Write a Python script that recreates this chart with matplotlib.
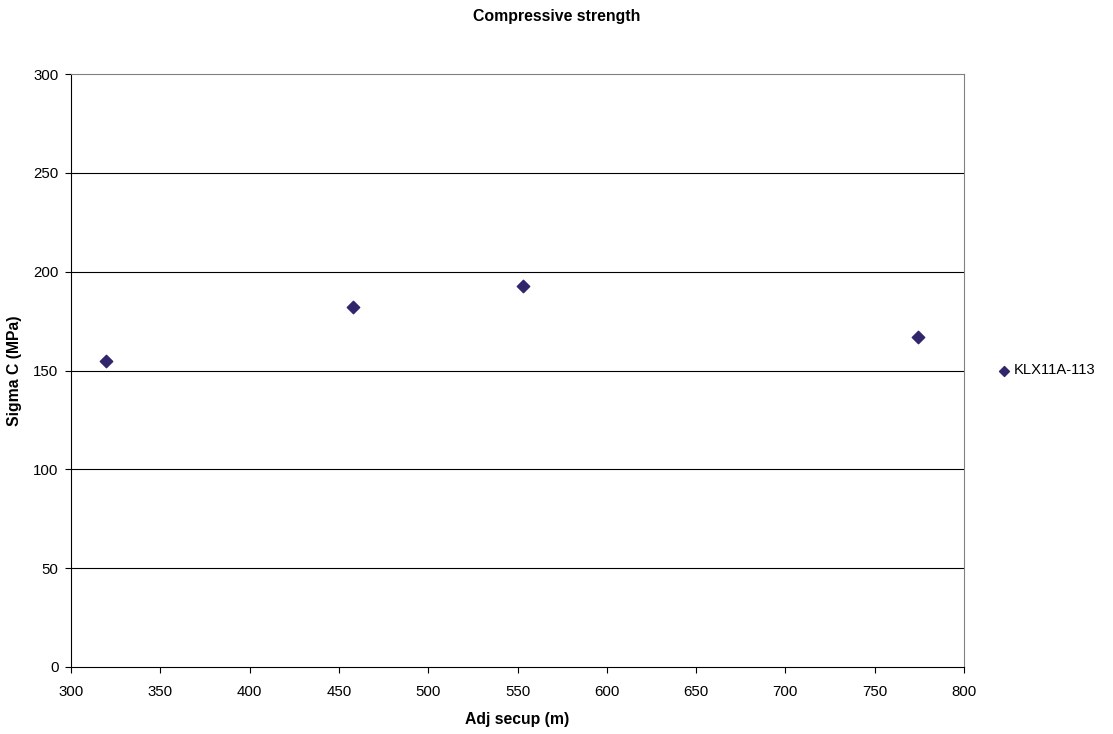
import matplotlib.pyplot as plt

# datos
secup = [319.6, 457.9, 553.0, 774.3]
sigma_c = [155.0, 182.1, 192.6, 166.8]
serie = "KLX11A-113"

x_ticks = [300, 350, 400, 450, 500, 550, 600, 650, 700, 750, 800]
y_ticks = [0, 50, 100, 150, 200, 250, 300]

plt.rcParams['font.family'] = ['Liberation Sans', 'DejaVu Sans']

fig = plt.figure(figsize=(11.13, 7.34), dpi=100)
ax = fig.add_axes([71/1113, 67/734, 893/1113, 593/734])

for y in y_ticks[1:-1]:
    ax.axhline(y, color='black', linewidth=0.8, zorder=1)

ax.scatter(secup, sigma_c, marker='D', s=40, color='#31256b', zorder=3, label=serie)

ax.set_xlim(300, 800)
ax.set_ylim(0, 300)
ax.set_xticks(x_ticks)
ax.set_yticks(y_ticks)
ax.tick_params(axis='both', labelsize=10.8, length=4, width=0.8, direction='out', color='black')
ax.tick_params(axis='x', pad=9)
ax.tick_params(axis='y', pad=5)

ax.spines['left'].set_color('black')
ax.spines['bottom'].set_color('black')
ax.spines['top'].set_color('#808080')
ax.spines['right'].set_color('#808080')
for s in ax.spines.values():
    s.set_linewidth(0.8)

ax.set_xlabel("Adj secup (m)", fontsize=11.3, fontweight='bold', labelpad=9)
ax.set_ylabel("Sigma C (MPa)", fontsize=11.3, fontweight='bold', labelpad=8)
fig.text(0.5, 1 - 17/734, "Compressive strength", ha='center', va='center',
         fontsize=11.4, fontweight='bold')

ax.legend(loc='center left', bbox_to_anchor=(1.013, 0.5), frameon=False,
          fontsize=10.6, handletextpad=-0.3, markerscale=0.8)

fig.savefig("out.png", dpi=100)
